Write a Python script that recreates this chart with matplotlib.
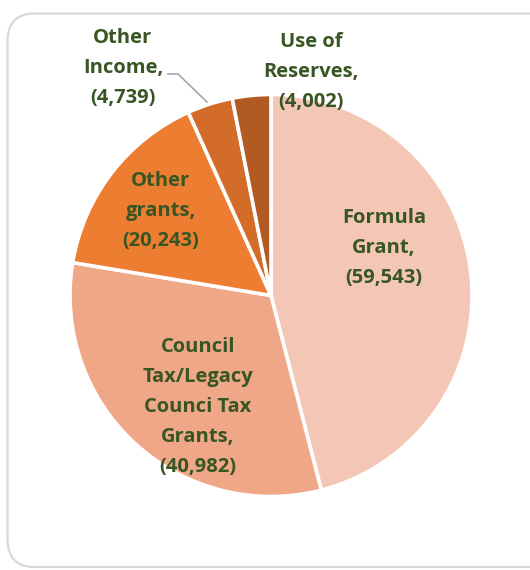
import matplotlib
matplotlib.use("Agg")
import matplotlib.pyplot as plt
from matplotlib.patches import FancyBboxPatch

categories = ["Formula\nGrant", "Council\nTax/Legacy\nCounci Tax\nGrants", "Other\ngrants",
              "Other\nIncome", "Use of\nReserves"]
values = [59543, 40982, 20243, 4739, 4002]
colors = ["#F4C6B6", "#F0A788", "#ED7D31", "#D26C28", "#B15B22"]

W, H = 530, 570
fig = plt.figure(figsize=(W / 100, H / 100), dpi=100)
fig.patch.set_facecolor("white")

# rounded frame around the chart area
frame = FancyBboxPatch((7.5 / W, 3.0 / H), (W + 20) / W, (H - 16.5) / H,
                       boxstyle="round,pad=0,rounding_size=0.05",
                       transform=fig.transFigure, facecolor="none",
                       edgecolor="#D9D9D9", linewidth=1.6, zorder=-1)
fig.patches.append(frame)

ax = fig.add_axes([0, 0, 1, 1])
ax.patch.set_alpha(0)

cx, cy, r = 271, H - 295.5, 201
wedges, _ = ax.pie(values, startangle=90, counterclock=False, colors=colors,
                   radius=r, center=(cx, cy), frame=True,
                   wedgeprops=dict(edgecolor="white", linewidth=2.6))
ax.set_xlim(0, W)
ax.set_ylim(0, H)
ax.set_aspect("equal")
ax.axis("off")

label_pos = [(384, 248), (198, 407), (161, 211), (123, 68), (311, 72)]
txt_color = "#375623"
for name, val, (x, y) in zip(categories, values, label_pos):
    ax.text(x, H - y, f"{name},\n({val:,})", ha="center", va="center",
            fontsize=14.5, fontweight="bold", color=txt_color,
            family="Open Sans", linespacing=1.66)

# leader line for the small "Other Income" slice
ax.plot([168, 178, 207], [H - 74, H - 74, H - 102], color="#A6A6A6", lw=1.2)

fig.savefig("out.png", dpi=100)
